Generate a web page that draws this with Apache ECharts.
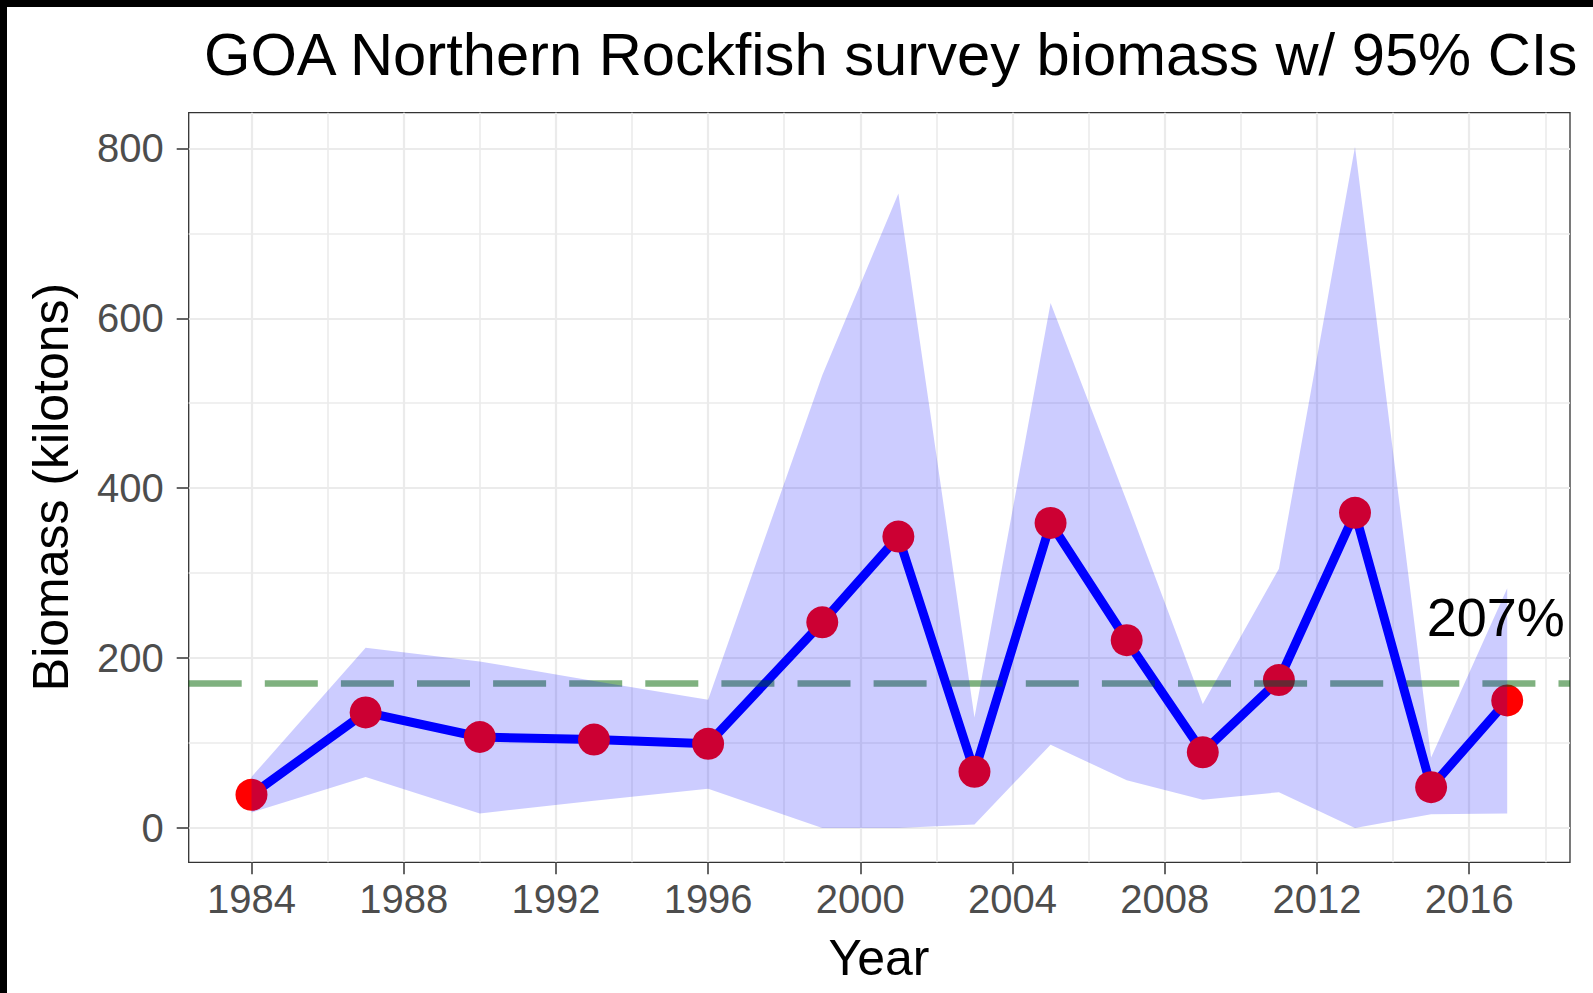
<!DOCTYPE html>
<html>
<head>
<meta charset="utf-8">
<script src="https://cdn.jsdelivr.net/npm/echarts@6/dist/echarts.min.js"></script>
<style>
html,body{margin:0;padding:0;background:#fff;}
#chart{width:1593px;height:993px;}
</style>
</head>
<body>
<div id="chart"></div>
<script>
// ---- data ----
const years   = [1984, 1987, 1990, 1993, 1996, 1999, 2001, 2003, 2005, 2007, 2009, 2011, 2013, 2015, 2017];
const biomass = [39, 136, 107, 104, 99, 242, 343, 66, 359, 221, 89, 174, 371, 48, 150];
const lowerCI = [18, 60, 17, 32, 46, 0, 0, 4, 98, 56, 33, 42, 0, 16, 17];
const upperCI = [60, 212, 196, 173, 151, 533, 747, 130, 618, 385, 146, 305, 802, 83, 282];
const referenceLevel = 170;
const xMajorTicks = [1984, 1988, 1992, 1996, 2000, 2004, 2008, 2012, 2016];
const xMinorTicks = [1986, 1990, 1994, 1998, 2002, 2006, 2010, 2014, 2018];
const yMajorTicks = [0, 200, 400, 600, 800];
const yMinorTicks = [100, 300, 500, 700];
const annotationText = '207%';
const annotationPoint = [2016.7, 248];
const titleText = 'GOA Northern Rockfish survey biomass w/ 95% CIs';
const xTitle = 'Year';
const yTitle = 'Biomass (kilotons)';

const FONT = "'Liberation Sans', Arial, Helvetica, sans-serif";
const chart = echarts.init(document.getElementById('chart'), null, {renderer: 'svg'});

const linePts = years.map((y, i) => [y, biomass[i]]);

const xMin = 1982.35, xMax = 2018.65, yMin = -40.5, yMax = 842;

const option = {
  backgroundColor: '#ffffff',
  animation: false,
  grid: {left: 188.7, right: 23, top: 112.7, bottom: 130.7, outerBoundsMode: 'none',
         show: true, borderColor: '#333333', borderWidth: 1.3, backgroundColor: 'transparent'},
  xAxis: [
    {type: 'value', min: xMin, max: xMax, position: 'bottom',
     axisLine: {show: false, onZero: false},
     axisTick: {show: true, length: 12, lineStyle: {color: '#333333', width: 1.5}, customValues: xMajorTicks},
     axisLabel: {show: true, customValues: xMajorTicks, margin: 17, color: '#4D4D4D', fontSize: 40, fontFamily: FONT,
                 formatter: v => String(v)},
     splitLine: {show: true, lineStyle: {color: '#EBEBEB', width: 2.2}}},
    {type: 'value', min: xMin, max: xMax, position: 'bottom',
     axisLine: {show: false, onZero: false},
     axisTick: {show: false, customValues: xMinorTicks},
     axisLabel: {show: false},
     splitLine: {show: true, lineStyle: {color: '#EBEBEB', width: 1.6}}}
  ],
  yAxis: [
    {type: 'value', min: yMin, max: yMax, position: 'left',
     axisLine: {show: false, onZero: false},
     axisTick: {show: true, length: 12, lineStyle: {color: '#333333', width: 1.5}, customValues: yMajorTicks},
     axisLabel: {show: true, customValues: yMajorTicks, margin: 25, color: '#4D4D4D', fontSize: 40, fontFamily: FONT,
                 formatter: v => String(v)},
     splitLine: {show: true, lineStyle: {color: '#EBEBEB', width: 2.2}}},
    {type: 'value', min: yMin, max: yMax, position: 'left',
     axisLine: {show: false, onZero: false},
     axisTick: {show: false, customValues: yMinorTicks},
     axisLabel: {show: false},
     splitLine: {show: true, lineStyle: {color: '#EBEBEB', width: 1.6}}}
  ],
  series: [
    {
      name: 'ref', type: 'line', data: [], z: 2,
      markLine: {
        silent: true, symbol: 'none', animation: false,
        label: {show: false},
        lineStyle: {color: 'rgba(0,100,0,0.5)', width: 6.5, type: [53, 23.1]},
        data: [{yAxis: referenceLevel}]
      }
    },
    {
      name: 'biomass', type: 'line', data: linePts, z: 3,
      showSymbol: false, symbol: 'none',
      lineStyle: {color: '#0000FF', width: 9}
    },
    {
      name: 'points', type: 'scatter', data: linePts, z: 4,
      symbol: 'circle', symbolSize: 32,
      itemStyle: {color: '#FF0000', opacity: 1}
    },
    {
      name: 'ci', type: 'custom', z: 5,
      data: [0],
      renderItem: function (params, api) {
        const pts = [];
        for (let i = 0; i < years.length; i++) pts.push(api.coord([years[i], upperCI[i]]));
        for (let i = years.length - 1; i >= 0; i--) pts.push(api.coord([years[i], lowerCI[i]]));
        return {type: 'polygon', shape: {points: pts}, style: {fill: 'rgba(0,0,255,0.2)', stroke: 'none'}};
      }
    },
    {
      name: 'annotation', type: 'custom', z: 6,
      data: [annotationPoint],
      renderItem: function (params, api) {
        const p = api.coord([api.value(0), api.value(1)]);
        return {type: 'text', x: p[0], y: p[1],
                style: {text: annotationText, fill: '#000000', font: '54px ' + FONT,
                        textAlign: 'center', textVerticalAlign: 'middle'}};
      }
    }
  ],
  graphic: [
    {type: 'rect', shape: {x: 0, y: 0, width: 1593, height: 7}, style: {fill: '#000'}, z: 100},
    {type: 'rect', shape: {x: 0, y: 0, width: 7, height: 993}, style: {fill: '#000'}, z: 100},
    {type: 'text', x: 204, y: 24, z: 100,
     style: {text: titleText, font: '59.7px ' + FONT, fill: '#000', textAlign: 'left', textVerticalAlign: 'top'}},
    {type: 'text', x: 879, y: 958, z: 100,
     style: {text: xTitle, font: '50px ' + FONT, fill: '#000', textAlign: 'center', textVerticalAlign: 'middle'}},
    {type: 'text', x: 51, y: 487, rotation: Math.PI / 2, z: 100,
     style: {text: yTitle, font: '50px ' + FONT, fill: '#000', textAlign: 'center', textVerticalAlign: 'middle'}}
  ]
};
chart.setOption(option);
</script>
</body>
</html>
